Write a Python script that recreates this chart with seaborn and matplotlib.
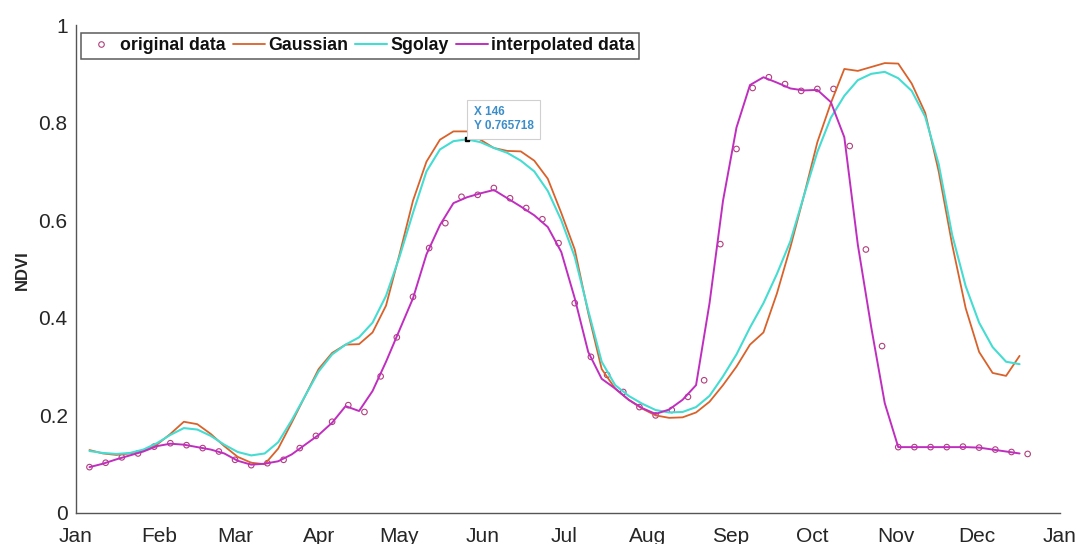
import matplotlib
matplotlib.use("Agg")
import matplotlib.pyplot as plt
import seaborn as sns
from matplotlib.lines import Line2D

sns.set_theme(style="white")
plt.rcParams["font.family"] = ["Liberation Sans", "DejaVu Sans"]

# Sampling days (day of year)
days_obs = list(range(6, 355, 6))   # 6-day observations
days_fit = list(range(6, 352, 5))   # 5-day reconstructed series

original = [0.094, 0.103, 0.114, 0.122, 0.136, 0.143, 0.139, 0.133, 0.126, 0.109,
            0.098, 0.102, 0.109, 0.133, 0.158, 0.187, 0.221, 0.207, 0.280, 0.360,
            0.443, 0.543, 0.594, 0.648, 0.652, 0.666, 0.645, 0.625, 0.602, 0.553,
            0.430, 0.320, 0.283, 0.248, 0.217, 0.200, 0.211, 0.238, 0.272, 0.551,
            0.746, 0.871, 0.893, 0.879, 0.865, 0.869, 0.869, 0.752, 0.540, 0.342,
            0.135, 0.135, 0.135, 0.135, 0.136, 0.134, 0.130, 0.125, 0.121]

gaussian = [0.129, 0.122, 0.119, 0.122, 0.128, 0.140, 0.162, 0.187, 0.182, 0.162,
            0.137, 0.115, 0.103, 0.100, 0.132, 0.185, 0.240, 0.295, 0.328, 0.345,
            0.346, 0.370, 0.425, 0.530, 0.640, 0.720, 0.765, 0.782, 0.782, 0.765,
            0.748, 0.742, 0.741, 0.722, 0.685, 0.615, 0.540, 0.410, 0.295, 0.255,
            0.232, 0.214, 0.200, 0.195, 0.196, 0.206, 0.228, 0.262, 0.300, 0.345,
            0.370, 0.450, 0.545, 0.650, 0.760, 0.840, 0.910, 0.906, 0.914, 0.922,
            0.921, 0.880, 0.820, 0.700, 0.550, 0.420, 0.330, 0.287, 0.281, 0.322]

sgolay = [0.127, 0.123, 0.121, 0.123, 0.130, 0.143, 0.160, 0.174, 0.171, 0.158,
          0.140, 0.125, 0.118, 0.122, 0.145, 0.190, 0.240, 0.290, 0.325, 0.345,
          0.360, 0.390, 0.445, 0.525, 0.615, 0.700, 0.745, 0.762, 0.765718, 0.760,
          0.748, 0.738, 0.722, 0.700, 0.660, 0.600, 0.525, 0.415, 0.310, 0.262,
          0.240, 0.224, 0.211, 0.206, 0.207, 0.217, 0.240, 0.280, 0.325, 0.380,
          0.430, 0.490, 0.557, 0.650, 0.740, 0.810, 0.855, 0.887, 0.900, 0.904,
          0.891, 0.865, 0.812, 0.715, 0.570, 0.465, 0.390, 0.340, 0.310, 0.305]

interpolated = [0.094, 0.101, 0.110, 0.118, 0.126, 0.137, 0.142, 0.140, 0.135, 0.130,
                0.122, 0.107, 0.099, 0.101, 0.106, 0.120, 0.140, 0.160, 0.185, 0.219,
                0.209, 0.250, 0.310, 0.375, 0.440, 0.530, 0.590, 0.635, 0.647, 0.655,
                0.662, 0.645, 0.628, 0.610, 0.586, 0.535, 0.440, 0.330, 0.275, 0.255,
                0.232, 0.215, 0.203, 0.212, 0.232, 0.262, 0.430, 0.640, 0.790, 0.877,
                0.893, 0.882, 0.870, 0.866, 0.867, 0.842, 0.770, 0.550, 0.380, 0.225,
                0.135, 0.135, 0.135, 0.135, 0.135, 0.135, 0.134, 0.130, 0.126, 0.122]

month_starts = [1, 32, 60, 91, 121, 152, 182, 213, 244, 274, 305, 335, 366]
month_labels = ["Jan", "Feb", "Mar", "Apr", "May", "Jun", "Jul", "Aug",
                "Sep", "Oct", "Nov", "Dec", "Jan"]
y_ticks = [0, 0.2, 0.4, 0.6, 0.8, 1]
y_tick_labels = ["0", "0.2", "0.4", "0.6", "0.8", "1"]

tip_day = 146
tip_value = 0.765718

c_obs = "#b0407c"
c_gauss = "#d9622b"
c_sgolay = "#45dcd2"
c_interp = "#c02ec0"
axis_grey = "#555555"

fig = plt.figure(figsize=(10.78, 5.44), dpi=100)
ax = fig.add_axes([0.0705, 0.057, 0.9128, 0.897])

sns.scatterplot(x=days_obs, y=original, ax=ax, marker="o", s=16,
                facecolors="none", edgecolor=c_obs, linewidth=0.8, zorder=2)
sns.lineplot(x=days_fit, y=gaussian, ax=ax, color=c_gauss, lw=1.3,
             estimator=None, sort=False, zorder=3)
sns.lineplot(x=days_fit, y=sgolay, ax=ax, color=c_sgolay, lw=1.5,
             estimator=None, sort=False, zorder=4)
sns.lineplot(x=days_fit, y=interpolated, ax=ax, color=c_interp, lw=1.4,
             estimator=None, sort=False, zorder=5)

# data tip on the Sgolay curve
ax.plot([tip_day], [tip_value], "s", color="black", ms=2.5, zorder=7)
ax.annotate(f"X {tip_day}\nY {tip_value}", xy=(tip_day, tip_value),
            xytext=(5, 5), textcoords="offset points", ha="left", va="bottom",
            fontsize=8.5, fontweight="bold", color="#3b8ec9", linespacing=1.25,
            bbox=dict(boxstyle="square,pad=0.55", fc="white", ec="#d0d0d0", lw=0.8),
            zorder=8)

ax.set_xlim(1, 366)
ax.set_ylim(0, 1)
ax.set_xticks(month_starts)
ax.set_xticklabels(month_labels)
ax.set_yticks(y_ticks)
ax.set_yticklabels(y_tick_labels)
ax.tick_params(axis="both", direction="in", length=5, width=0.8,
               color=axis_grey, labelcolor="#262626", labelsize=15)
ax.tick_params(axis="x", pad=10)
ax.tick_params(axis="y", pad=6)
for side in ("top", "right"):
    ax.spines[side].set_visible(False)
for side in ("left", "bottom"):
    ax.spines[side].set_color(axis_grey)
    ax.spines[side].set_linewidth(1.0)
ax.set_xlabel("")
ax.set_ylabel("")
fig.text(22 / 1078, 0.504, "NDVI", rotation=90, ha="center", va="center",
         fontsize=12, fontweight="bold", color="#262626")

handles = [
    Line2D([], [], ls="", marker="o", ms=4, mfc="none", mec=c_obs, mew=0.8),
    Line2D([], [], color=c_gauss, lw=1.3),
    Line2D([], [], color=c_sgolay, lw=1.5),
    Line2D([], [], color=c_interp, lw=1.4),
]
labels = ["original data", "Gaussian", "Sgolay", "interpolated data"]
leg = ax.legend(handles, labels, ncol=4, loc="upper left",
                bbox_to_anchor=(0.005, 0.984), borderaxespad=0,
                frameon=True, fancybox=False, edgecolor="#333333",
                prop=dict(weight="bold", size=12.8), handlelength=1.8,
                handletextpad=0.17, columnspacing=0.4, borderpad=0.25)
leg.get_frame().set_linewidth(1.1)
for t in leg.get_texts():
    t.set_color("#111111")

fig.savefig("out.png", dpi=100, facecolor="white")
